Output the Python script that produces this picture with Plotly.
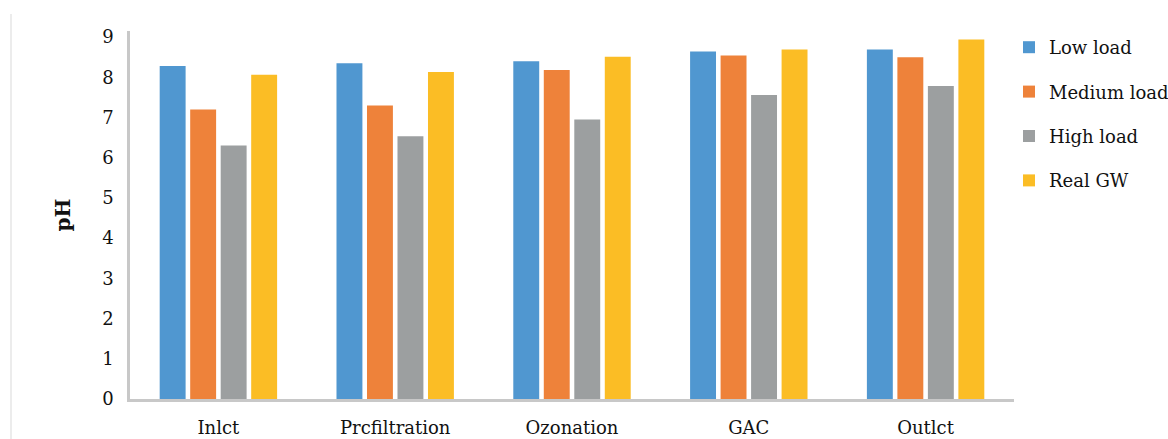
import plotly.graph_objects as go

# Treatment stages and measured pH for each loading condition
stages = ["Inlct", "Prcfiltration", "Ozonation", "GAC", "Outlct"]
low_load = [8.28, 8.35, 8.40, 8.64, 8.69]
medium_load = [7.20, 7.30, 8.18, 8.54, 8.50]
high_load = [6.30, 6.53, 6.95, 7.56, 7.78]
real_gw = [8.06, 8.13, 8.51, 8.69, 8.94]
y_ticks = [0, 1, 2, 3, 4, 5, 6, 7, 8, 9]

series = [
    ("Low load", low_load, "#5097D0"),
    ("Medium load", medium_load, "#EE823A"),
    ("High load", high_load, "#9C9FA0"),
    ("Real GW", real_gw, "#FBBD25"),
]

FONT = "DejaVu Serif"

fig = go.Figure()
for i, (name, vals, color) in enumerate(series):
    fig.add_trace(go.Bar(
        x=stages, y=vals, name=name, legendgroup=f"g{i}",
        marker=dict(color=color, line=dict(width=0)),
    ))

L, R, T, B = 130, 154, 31, 40
W, H = 1168, 439
pw = W - L - R
ph = H - T - B

fig.update_layout(
    width=W, height=H,
    margin=dict(l=L, r=R, t=T, b=B, autoexpand=False),
    paper_bgcolor="white", plot_bgcolor="white",
    barmode="group", bargap=0.31, bargroupgap=0.15,
    font=dict(family=FONT, size=18, color="#111111"),
    showlegend=True,
    legend=dict(
        xref="container", yref="container",
        x=1009 / W, xanchor="left",
        y=1.0 - 29 / H, yanchor="top",
        bgcolor="rgba(0,0,0,0)", borderwidth=0,
        tracegroupgap=18, itemwidth=30,
        font=dict(family=FONT, size=18, color="#111111"),
    ),
    xaxis=dict(
        showline=True, linecolor="#C8C8C8", linewidth=2.5,
        ticks="", showgrid=False, ticklabelstandoff=11, automargin=False,
        tickfont=dict(family=FONT, size=18),
    ),
    yaxis=dict(
        range=[0, 9.15], tickvals=y_ticks,
        showline=True, linecolor="#C8C8C8", linewidth=2.5,
        showgrid=False, zeroline=False, ticks="", ticklabelstandoff=10,
        automargin=False,
        tickfont=dict(family=FONT, size=18),
        title=dict(text="<b>pH</b>", font=dict(family=FONT, size=20), standoff=27),
    ),
    shapes=[
        dict(type="line", xref="paper", yref="paper",
             x0=(11 - L) / pw, x1=(11 - L) / pw,
             y0=-B / ph, y1=1.0 + (T - 14) / ph,
             line=dict(color="#D9D9D9", width=1)),
    ],
)

fig.write_html("out.html")
